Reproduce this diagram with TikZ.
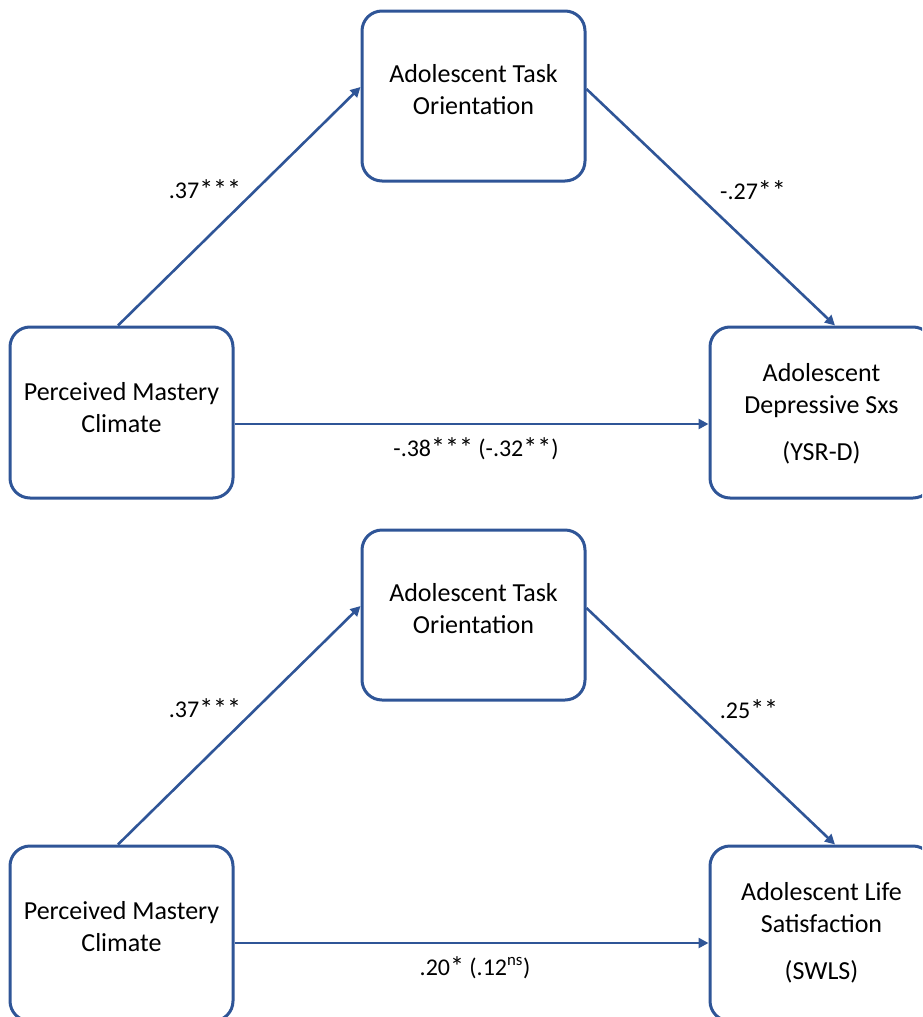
\documentclass[tikz,border=0pt]{standalone}
\usepackage{fontspec}
\setmainfont{Carlito}
\usetikzlibrary{arrows.meta}
\definecolor{edgeblue}{RGB}{47,85,151}
\newcommand\sigst{\raisebox{-1.5pt}{\fontsize{28}{28}\selectfont *}}
\begin{document}
\begin{tikzpicture}[x=1pt,y=-1pt,
  box/.style={draw=edgeblue, line width=3pt, rounded corners=20pt, minimum width=223pt, minimum height=171pt, inner sep=0pt, fill=white},
  boxtext/.style={align=center, font=\fontsize{26}{32}\selectfont, inner sep=0pt, text=black},
  coef/.style={font=\fontsize{24}{29}\selectfont, inner sep=0pt, anchor=base, text=black},
  arr/.style={draw=edgeblue, line width=2.6pt, -{Triangle[length=10pt,width=10pt]}}]
\useasboundingbox (0,0) rectangle (922,1017);
\clip (0,0) rectangle (922,1017);

% ---------- upper model ----------
\node[box, minimum height=170pt] (m1) at (473.5,96) {};
\node[box] (l1) at (121.5,412.5) {};
\node[box] (r1) at (821.5,412.5) {};
\node[boxtext] (m1t) at (473.5,91.6) {\strut Adolescent Task\\\strut Orientation};
\node[boxtext] (l1t) at (121.5,409.6) {\strut Perceived Mastery\\\strut Climate};
\node[boxtext] (r1t) at (821.5,414.1) {\strut Adolescent\\\strut Depressive Sxs\\[15pt]\strut (YSR-D)};

\coordinate (a1s) at ([xshift=-3.5pt]l1.north);
\coordinate (a1e) at ([yshift=9pt]m1.west);
\coordinate (b1s) at ([yshift=7pt]m1.east);
\coordinate (b1e) at ([xshift=13.5pt]r1.north);
\coordinate (c1s) at ([yshift=-11.5pt]l1.east);
\draw[arr] (a1s) -- (a1e);
\draw[arr] (b1s) -- (b1e);
\draw[arr] (c1s) -- (c1s -| r1.west);

\node[coef] (k1) at (205,198) {.37\sigst\sigst\sigst};
\node[coef] (k2) at (753,199) {-.27\sigst\sigst};
\node[coef] (k3) at (476,456) {-.38\sigst\sigst\sigst{} (-.32\sigst\sigst)};

% ---------- lower model ----------
\node[box, minimum height=170pt] (m2) at (473.5,615) {};
\node[box, minimum height=175pt] (l2) at (121.5,933.5) {};
\node[box, minimum height=175pt] (r2) at (821.5,933.5) {};
\node[boxtext] (m2t) at (473.5,610.6) {\strut Adolescent Task\\\strut Orientation};
\node[boxtext] (l2t) at (121.5,928.6) {\strut Perceived Mastery\\\strut Climate};
\node[boxtext] (r2t) at (821.5,933.1) {\strut Adolescent Life\\\strut Satisfaction\\[15pt]\strut (SWLS)};

\coordinate (a2s) at ([xshift=-3.5pt]l2.north);
\coordinate (a2e) at ([yshift=9pt]m2.west);
\coordinate (b2s) at ([yshift=7pt]m2.east);
\coordinate (b2e) at ([xshift=13.5pt]r2.north);
\coordinate (c2s) at ([yshift=-9.5pt]l2.east);
\draw[arr] (a2s) -- (a2e);
\draw[arr] (b2s) -- (b2e);
\draw[arr] (c2s) -- (c2s -| r2.west);

\node[coef] (k4) at (205,717) {.37\sigst\sigst\sigst};
\node[coef] (k5) at (749,718) {.25\sigst\sigst};
\node[coef] (k6) at (475,975) {.20\sigst{} (.12\textsuperscript{ns})};
\end{tikzpicture}
\end{document}
